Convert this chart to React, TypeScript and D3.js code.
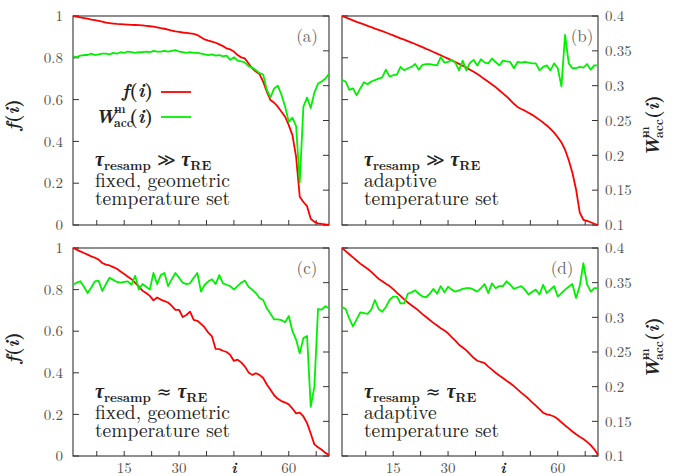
import React from 'react';
import * as d3 from 'd3';

// fraction of replicas f(i), panels (a)-(d)
const fA = [1.0, 0.997, 0.993, 0.99, 0.987, 0.983, 0.98, 0.977, 0.973, 0.968, 0.966, 0.964, 0.962, 0.961, 0.96, 0.959, 0.958, 0.957, 0.956, 0.955, 0.953, 0.951, 0.949, 0.946, 0.942, 0.939, 0.935, 0.93, 0.926, 0.924, 0.921, 0.919, 0.917, 0.914, 0.909, 0.898, 0.888, 0.882, 0.877, 0.872, 0.864, 0.856, 0.845, 0.84, 0.83, 0.813, 0.802, 0.797, 0.773, 0.75, 0.734, 0.722, 0.686, 0.638, 0.598, 0.585, 0.566, 0.542, 0.518, 0.478, 0.43, 0.327, 0.135, 0.11, 0.09, 0.03, 0.015, 0.008, 0.005, 0.003, 0.002];
const wA = [0.342, 0.341, 0.343, 0.344, 0.344, 0.346, 0.344, 0.345, 0.346, 0.346, 0.345, 0.347, 0.346, 0.348, 0.347, 0.349, 0.348, 0.347, 0.348, 0.348, 0.349, 0.348, 0.35, 0.349, 0.349, 0.35, 0.349, 0.35, 0.351, 0.349, 0.348, 0.347, 0.348, 0.347, 0.347, 0.346, 0.345, 0.344, 0.345, 0.343, 0.344, 0.342, 0.343, 0.337, 0.341, 0.336, 0.335, 0.333, 0.328, 0.326, 0.322, 0.318, 0.316, 0.294, 0.283, 0.296, 0.3, 0.287, 0.27, 0.248, 0.254, 0.242, 0.161, 0.27, 0.283, 0.268, 0.29, 0.303, 0.306, 0.31, 0.317];
const fB = [1.0, 0.993, 0.986, 0.979, 0.972, 0.966, 0.96, 0.953, 0.947, 0.94, 0.934, 0.928, 0.921, 0.914, 0.907, 0.9, 0.893, 0.887, 0.88, 0.873, 0.866, 0.858, 0.851, 0.843, 0.836, 0.828, 0.82, 0.812, 0.804, 0.796, 0.788, 0.78, 0.771, 0.762, 0.753, 0.743, 0.733, 0.722, 0.71, 0.697, 0.685, 0.672, 0.66, 0.645, 0.63, 0.615, 0.598, 0.58, 0.565, 0.555, 0.547, 0.537, 0.527, 0.515, 0.503, 0.49, 0.476, 0.46, 0.442, 0.42, 0.395, 0.36, 0.31, 0.25, 0.17, 0.06, 0.025, 0.02, 0.013, 0.006, 0.0];
const wB = [0.308, 0.306, 0.294, 0.296, 0.286, 0.296, 0.305, 0.302, 0.306, 0.308, 0.31, 0.312, 0.323, 0.313, 0.315, 0.316, 0.327, 0.322, 0.325, 0.327, 0.331, 0.323, 0.33, 0.331, 0.331, 0.33, 0.329, 0.341, 0.333, 0.334, 0.337, 0.333, 0.322, 0.336, 0.322, 0.333, 0.337, 0.329, 0.338, 0.333, 0.332, 0.339, 0.334, 0.329, 0.336, 0.335, 0.334, 0.325, 0.334, 0.333, 0.334, 0.333, 0.332, 0.332, 0.322, 0.327, 0.329, 0.322, 0.332, 0.325, 0.299, 0.373, 0.332, 0.325, 0.325, 0.327, 0.326, 0.331, 0.323, 0.329, 0.329];
const fC = [1.0, 0.992, 0.984, 0.976, 0.968, 0.96, 0.953, 0.944, 0.928, 0.92, 0.916, 0.908, 0.9, 0.887, 0.875, 0.862, 0.85, 0.832, 0.815, 0.795, 0.784, 0.77, 0.748, 0.762, 0.752, 0.745, 0.738, 0.722, 0.703, 0.703, 0.668, 0.678, 0.694, 0.655, 0.65, 0.635, 0.618, 0.593, 0.575, 0.515, 0.514, 0.506, 0.5, 0.486, 0.457, 0.463, 0.45, 0.43, 0.402, 0.39, 0.398, 0.39, 0.375, 0.344, 0.318, 0.292, 0.275, 0.264, 0.257, 0.248, 0.228, 0.205, 0.209, 0.19, 0.158, 0.108, 0.056, 0.042, 0.03, 0.015, 0.005];
const wC = [0.347, 0.35, 0.352, 0.344, 0.335, 0.343, 0.352, 0.353, 0.338, 0.348, 0.357, 0.354, 0.351, 0.35, 0.351, 0.352, 0.347, 0.36, 0.34, 0.348, 0.344, 0.34, 0.364, 0.348, 0.361, 0.364, 0.345, 0.355, 0.364, 0.357, 0.35, 0.348, 0.349, 0.357, 0.364, 0.337, 0.347, 0.352, 0.355, 0.348, 0.361, 0.349, 0.347, 0.345, 0.34, 0.345, 0.35, 0.353, 0.344, 0.34, 0.335, 0.328, 0.325, 0.313, 0.305, 0.297, 0.297, 0.296, 0.293, 0.302, 0.28, 0.268, 0.248, 0.27, 0.273, 0.171, 0.2, 0.312, 0.311, 0.316, 0.313];
const fD = [1.0, 0.985, 0.97, 0.955, 0.94, 0.925, 0.912, 0.9, 0.885, 0.868, 0.852, 0.84, 0.828, 0.817, 0.802, 0.785, 0.77, 0.753, 0.738, 0.725, 0.712, 0.698, 0.682, 0.668, 0.654, 0.64, 0.627, 0.614, 0.603, 0.59, 0.572, 0.555, 0.535, 0.522, 0.508, 0.49, 0.472, 0.458, 0.452, 0.447, 0.43, 0.415, 0.4, 0.387, 0.375, 0.362, 0.35, 0.336, 0.32, 0.305, 0.29, 0.275, 0.258, 0.242, 0.225, 0.208, 0.2, 0.196, 0.19, 0.178, 0.162, 0.147, 0.133, 0.118, 0.105, 0.093, 0.082, 0.068, 0.052, 0.032, 0.005];
const wD = [0.315, 0.312, 0.298, 0.287, 0.297, 0.307, 0.306, 0.305, 0.311, 0.325, 0.312, 0.308, 0.315, 0.325, 0.33, 0.33, 0.32, 0.32, 0.334, 0.336, 0.339, 0.334, 0.33, 0.329, 0.334, 0.341, 0.334, 0.345, 0.336, 0.344, 0.34, 0.337, 0.339, 0.341, 0.342, 0.342, 0.34, 0.337, 0.342, 0.348, 0.335, 0.349, 0.342, 0.345, 0.345, 0.352, 0.347, 0.341, 0.343, 0.345, 0.34, 0.333, 0.337, 0.34, 0.333, 0.347, 0.335, 0.34, 0.345, 0.33, 0.335, 0.34, 0.344, 0.348, 0.328, 0.345, 0.378, 0.348, 0.337, 0.342, 0.342];

const fTicks = [0, 0.2, 0.4, 0.6, 0.8, 1];
const fTickLabels = ['0', '0.2', '0.4', '0.6', '0.8', '1'];
const wTicks = [0.1, 0.15, 0.2, 0.25, 0.3, 0.35, 0.4];
const wTickLabels = ['0.1', '0.15', '0.2', '0.25', '0.3', '0.35', '0.4'];
const xMinor = [7.5, 15, 22.5, 30, 37.5, 45, 52.5, 60, 67.5];
const xTicks = [15, 30, 45, 60];
const xTickLabels = ['15', '30', 'i', '60'];

const RED = '#ff0000';
const GREEN = '#00f000';
const SERIF = "'Latin Modern Roman', 'Liberation Serif', serif";
const INK = '#222';
const GRAY = '#555';

const serif = (size: number, extra: React.CSSProperties = {}): React.CSSProperties => ({
  fontFamily: SERIF, fontSize: size, ...extra,
});

type PanelProps = {
  f: number[]; w: number[]; x0: number; y0: number; h: number;
  tag: string; tagX: number; approx: boolean; adaptive: boolean;
  left: boolean; right: boolean; bottom: boolean; legend: boolean;
};

const PW = 256;

const Tau = ({ x, y, sym }: { x: number; y: number; sym: string }) => (
  <text x={x} y={y} fill={INK} style={serif(20, { fontWeight: 'bold' })}>
    <tspan style={{ fontStyle: 'italic' }}>τ</tspan>
    <tspan style={{ fontSize: 13 }} dy={4}>resamp</tspan>
    <tspan dy={-4} style={{ fontFamily: "'DejaVu Serif', serif", fontWeight: 'normal', fontSize: 18 }}>{sym === 'gg' ? ' ≫ ' : ' ≈ '}</tspan>
    <tspan style={{ fontStyle: 'italic' }}>τ</tspan>
    <tspan style={{ fontSize: 13 }} dy={4}>RE</tspan>
  </text>
);

const Panel = (p: PanelProps) => {
  const x = d3.scaleLinear().domain([1, 71]).range([p.x0, p.x0 + PW]);
  const yf = d3.scaleLinear().domain([0, 1]).range([p.y0 + p.h, p.y0]);
  const yw = d3.scaleLinear().domain([0.1, 0.4]).range([p.y0 + p.h, p.y0]);
  const lineF = d3.line<number>().x((_, i) => x(i + 1)).y(d => yf(d));
  const lineW = d3.line<number>().x((_, i) => x(i + 1)).y(d => yw(d));
  const tx = p.x0 + 22;
  const by = p.y0 + p.h;
  return (
    <g>
      <rect x={p.x0} y={p.y0} width={PW} height={p.h} fill="none" stroke="#333" strokeWidth={1.1} />
      {fTicks.map(t => (
        <line key={'fl' + t} x1={p.x0} x2={p.x0 + 6} y1={yf(t)} y2={yf(t)} stroke="#333" />
      ))}
      {wTicks.map(t => (
        <line key={'wr' + t} x1={p.x0 + PW - 6} x2={p.x0 + PW} y1={yw(t)} y2={yw(t)} stroke="#333" />
      ))}
      {xMinor.map(t => (
        <line key={'xb' + t} x1={x(t)} x2={x(t)} y1={by} y2={by - 5} stroke="#333" />
      ))}
      {p.left && fTicks.map((t, i) => (
        <text key={'flab' + t} x={p.x0 - 10} y={yf(t)} dy="0.35em" textAnchor="end" fill={GRAY} style={serif(15)}>{fTickLabels[i]}</text>
      ))}
      {p.right && wTicks.map((t, i) => (
        <text key={'wlab' + t} x={p.x0 + PW + 7} y={yw(t)} dy="0.35em" textAnchor="start" fill={GRAY} style={serif(15)}>{wTickLabels[i]}</text>
      ))}
      {p.bottom && xTicks.map((t, i) => (
        <text key={'xlab' + t} x={x(t)} y={468} dy="0.33em" textAnchor="middle"
          fill={xTickLabels[i] === 'i' ? INK : GRAY}
          style={serif(15, xTickLabels[i] === 'i' ? { fontWeight: 'bold', fontStyle: 'italic' } : {})}>{xTickLabels[i]}</text>
      ))}
      <path d={lineF(p.f) || ''} fill="none" stroke={RED} strokeWidth={1.8} strokeLinejoin="round" />
      <path d={lineW(p.w) || ''} fill="none" stroke={GREEN} strokeWidth={1.8} strokeLinejoin="round" />
      <text x={p.tagX} y={p.y0 + 26} textAnchor="middle" fill="#666" style={serif(17)}>{p.tag}</text>
      <Tau x={tx} y={p.y0 + 150} sym={p.approx ? 'approx' : 'gg'} />
      <text x={tx} y={p.y0 + 171} fill={INK} style={serif(19.5)}>{p.adaptive ? 'adaptive' : 'fixed, geometric'}</text>
      <text x={tx} y={p.y0 + 189} fill={INK} style={serif(19.5)}>temperature set</text>
      {p.legend && (
        <g>
          <text x={153} y={97} textAnchor="end" fill={INK} style={serif(19, { fontWeight: 'bold' })}>
            <tspan style={{ fontStyle: 'italic' }}>f</tspan>(<tspan style={{ fontStyle: 'italic' }}>i</tspan>)
          </text>
          <line x1={161} x2={191} y1={92} y2={92} stroke={RED} strokeWidth={1.8} />
          <text x={95} y={123} fill={INK} style={serif(19, { fontWeight: 'bold', fontStyle: 'italic' })}>W</text>
          <text x={114} y={113} fill={INK} style={serif(12, { fontWeight: 'bold' })}>m</text>
          <text x={114} y={127} fill={INK} style={serif(12, { fontWeight: 'bold' })}>acc</text>
          <text x={153} y={123} textAnchor="end" fill={INK} style={serif(19, { fontWeight: 'bold' })}>
            (<tspan style={{ fontStyle: 'italic' }}>i</tspan>)
          </text>
          <line x1={161} x2={191} y1={117} y2={117} stroke={GREEN} strokeWidth={1.8} />
        </g>
      )}
    </g>
  );
};

const FTitle = ({ cy }: { cy: number }) => (
  <g transform={`translate(14,${cy}) rotate(-90)`}>
    <text x={0} y={5} textAnchor="middle" fill={INK} style={serif(19, { fontWeight: 'bold' })}>
      <tspan style={{ fontStyle: 'italic' }}>f</tspan>(<tspan style={{ fontStyle: 'italic' }}>i</tspan>)
    </text>
  </g>
);

const WTitle = ({ cy }: { cy: number }) => (
  <g transform={`translate(652,${cy}) rotate(-90)`}>
    <text x={-29} y={7} fill={INK} style={serif(19, { fontWeight: 'bold', fontStyle: 'italic' })}>W</text>
    <text x={-10} y={-3} fill={INK} style={serif(12, { fontWeight: 'bold' })}>m</text>
    <text x={-10} y={11} fill={INK} style={serif(12, { fontWeight: 'bold' })}>acc</text>
    <text x={9} y={7} fill={INK} style={serif(19, { fontWeight: 'bold' })}>
      (<tspan style={{ fontStyle: 'italic' }}>i</tspan>)
    </text>
  </g>
);

export default function App() {
  return (
    <svg width={679} height={476} style={{ position: 'absolute', left: 0, top: 0, background: '#fff' }}>
      <Panel f={fA} w={wA} x0={73} y0={16} h={209} tag="(a)" tagX={307} approx={false} adaptive={false} left right={false} bottom={false} legend />
      <Panel f={fB} w={wB} x0={342} y0={16} h={209} tag="(b)" tagX={582} approx={false} adaptive left={false} right bottom={false} legend={false} />
      <Panel f={fC} w={wC} x0={73} y0={248} h={208} tag="(c)" tagX={307} approx adaptive={false} left right={false} bottom legend={false} />
      <Panel f={fD} w={wD} x0={342} y0={248} h={208} tag="(d)" tagX={562} approx adaptive left={false} right bottom legend={false} />
      <FTitle cy={115} />
      <FTitle cy={348} />
      <WTitle cy={128} />
      <WTitle cy={350} />
    </svg>
  );
}
